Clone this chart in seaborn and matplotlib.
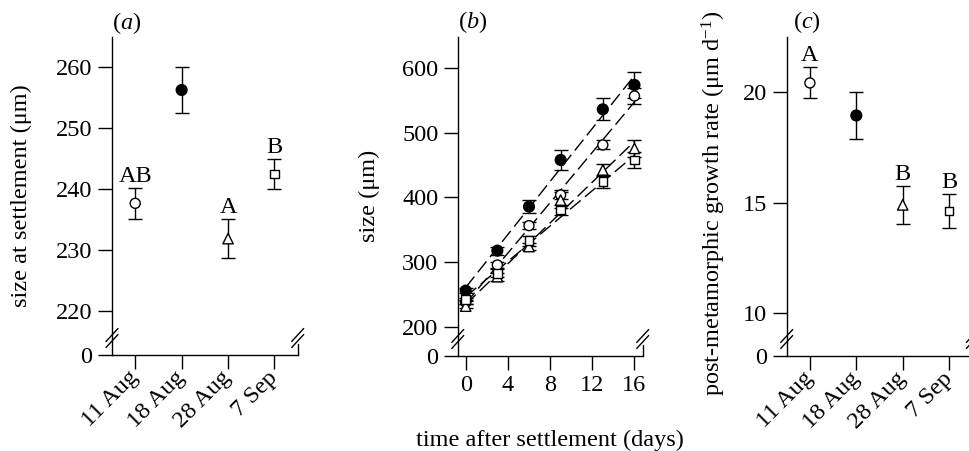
import numpy as np
import pandas as pd
import matplotlib
matplotlib.use('Agg')
import matplotlib.pyplot as plt
import seaborn as sns

# ---- data ----
dates = ['11 Aug', '18 Aug', '28 Aug', '7 Sep']

# (a) size at settlement
settle_size = [237.6, 256.2, 231.8, 242.4]
settle_err = [2.5, 3.7, 3.2, 2.4]
settle_letters = ['AB', '', 'A', 'B']

# (b) size over time
days = [0, 3, 6, 9, 13, 16]
size_11aug = [237.6, 295.5, 356.4, 403.9, 481.3, 557.1]
err_11aug = [3, 5, 5, 7, 7, 12]
size_18aug = [255.8, 317.7, 385.8, 458.1, 536.5, 574.2]
err_18aug = [4, 6, 10, 15, 17, 20]
size_28aug = [231.8, 277.4, 324.0, 396.0, 442.6, 476.0]
err_28aug = [3, 6, 6, 12, 9, 13]
size_7sep = [242.4, 282.6, 333.0, 380.7, 424.5, 458.0]
err_7sep = [2.4, 6, 8, 8, 10, 13]

# (c) post-metamorphic growth rate
growth_rate = [20.41, 18.94, 14.90, 14.63]
growth_err = [0.70, 1.05, 0.85, 0.76]
growth_letters = ['A', '', 'B', 'B']

marker_map = {'11 Aug': 'o', '18 Aug': 'o', '28 Aug': '^', '7 Sep': 's'}
face_map = {'11 Aug': 'white', '18 Aug': 'black', '28 Aug': 'white', '7 Sep': 'white'}
size_map = {'11 Aug': 52, '18 Aug': 60, '28 Aug': 56, '7 Sep': 38}

FS = 17.5

sns.set_style('ticks')
plt.rcParams['font.family'] = ['Liberation Serif', 'DejaVu Serif']
plt.rcParams['mathtext.fontset'] = 'custom'
plt.rcParams['mathtext.rm'] = 'Liberation Serif'
plt.rcParams['mathtext.it'] = 'Liberation Serif:italic'
plt.rcParams['axes.linewidth'] = 1.0
for k in ['text.color', 'axes.labelcolor', 'xtick.color', 'ytick.color', 'axes.edgecolor']:
    plt.rcParams[k] = 'black'

W, H = 969, 451
fig = plt.figure(figsize=(W / 100, H / 100), dpi=100)


def px_axes(left, right, bottom, top):
    # pixel box (from top-left of image) -> figure axes
    return fig.add_axes([left / W, (H - bottom) / H, (right - left) / W, (bottom - top) / H])


ax_a = px_axes(112, 297.7, 355, 37)
ax_b = px_axes(457.7, 642.7, 356, 36.7)
ax_c = px_axes(786.7, 972.3, 356, 36.7)


def style_axes(ax):
    sns.despine(ax=ax)
    ax.tick_params(direction='out', length=10, width=1, labelsize=FS, pad=4, color='black')


def add_breaks(ax, right_stub=True):
    bb = ax.get_position()
    wpx, hpx = bb.width * W, bb.height * H
    cy = 17
    for x in ([0, 1] if right_stub else [0]):
        for dy in (-3, 3):
            ax.plot([x - 6 / wpx, x + 6 / wpx], [(cy + dy - 6.5) / hpx, (cy + dy + 6.5) / hpx],
                    transform=ax.transAxes, color='black', lw=1, clip_on=False)
    if right_stub:
        ax.plot([1, 1], [0, 11 / hpx], transform=ax.transAxes, color='black', lw=1, clip_on=False)


def cat_panel(ax, vals, errs, letters):
    d = pd.DataFrame({'date': dates, 'val': vals, 'err': errs})
    ax.errorbar(d['date'], d['val'], yerr=d['err'], fmt='none', ecolor='black',
                elinewidth=1, capsize=5, capthick=1, zorder=2)
    sns.scatterplot(data=d, x='date', y='val', hue='date', palette=face_map,
                    style='date', markers=marker_map, size='date', sizes=size_map,
                    edgecolor='black', linewidth=1, legend=False, ax=ax, zorder=3)
    for dt, v, e, lab in zip(dates, vals, errs, letters):
        if lab:
            ax.annotate(lab, xy=(dt, v + e), xytext=(0, 1), textcoords='offset points',
                        ha='center', va='bottom', fontsize=FS)
    ax.set_xlim(-0.5, 3.5)
    ax.set_xlabel('')
    plt.setp(ax.get_xticklabels(), rotation=45, ha='right', va='center', rotation_mode='anchor')


# ---- (a) ----
cat_panel(ax_a, settle_size, settle_err, settle_letters)
ax_a.set_ylim(212.7, 264.9)
ax_a.set_yticks([212.7, 220, 230, 240, 250, 260], ['0', '220', '230', '240', '250', '260'])
ax_a.set_ylabel('size at settlement (μm)', fontsize=FS)
ax_a.yaxis.set_label_coords(-0.43, 0.5)

# ---- (b) ----
b_df = pd.DataFrame({
    'date': np.repeat(dates, len(days)),
    'day': days * 4,
    'size': size_11aug + size_18aug + size_28aug + size_7sep,
    'err': err_11aug + err_18aug + err_28aug + err_7sep,
})
for dt in dates:
    sub = b_df[b_df['date'] == dt]
    sns.regplot(data=sub, x='day', y='size', scatter=False, ci=None, color='black',
                line_kws=dict(lw=1, dashes=(10, 4), zorder=1), ax=ax_b)
    ax_b.errorbar(sub['day'], sub['size'], yerr=sub['err'], fmt='none', ecolor='black',
                  elinewidth=1, capsize=5, capthick=1, zorder=2)
sns.scatterplot(data=b_df, x='day', y='size', hue='date', palette=face_map,
                style='date', markers=marker_map, size='date', sizes=size_map,
                edgecolor='black', linewidth=1, legend=False, ax=ax_b, zorder=3)
ax_b.set_xlim(-0.76, 16.78)
ax_b.set_xticks([0, 4, 8, 12, 16])
ax_b.set_ylim(154.6, 648.9)
ax_b.set_yticks([154.6, 200, 300, 400, 500, 600], ['0', '200', '300', '400', '500', '600'])
ax_b.set_ylabel('size (μm)', fontsize=FS)
ax_b.yaxis.set_label_coords(-0.42, 0.5)
ax_b.set_xlabel('time after settlement (days)', fontsize=FS)
ax_b.xaxis.set_label_coords(0.5, -0.232)

# ---- (c) ----
cat_panel(ax_c, growth_rate, growth_err, growth_letters)
ax_c.set_ylim(8.07, 22.5)
ax_c.set_yticks([8.07, 10, 15, 20], ['0', '10', '15', '20'])
ax_c.set_ylabel('post-metamorphic growth rate (μm d$^{\\mathrm{-1}}$)', fontsize=FS)
ax_c.yaxis.set_label_coords(-0.316, 0.48)

for ax, lab, xf in [(ax_a, 'a', 0.08), (ax_b, 'b', 0.083), (ax_c, 'c', 0.108)]:
    style_axes(ax)
    add_breaks(ax)
    ax.text(xf, 1.045, '($\\mathit{%s}$)' % lab, transform=ax.transAxes,
            ha='center', va='center', fontsize=FS)

fig.savefig('out.png', dpi=100)
